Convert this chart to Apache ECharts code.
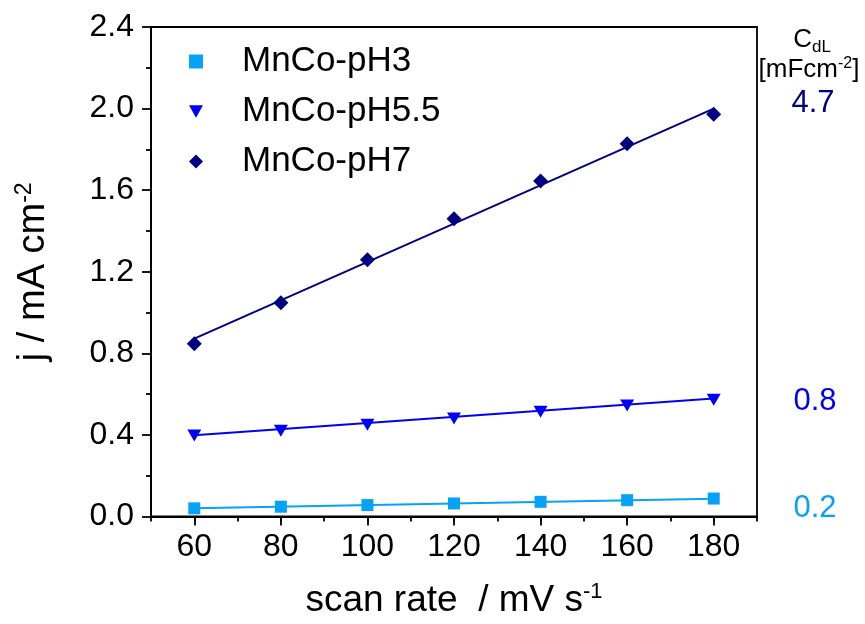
<!DOCTYPE html>
<html><head><meta charset="utf-8">
<script src="https://cdn.jsdelivr.net/npm/echarts@6/dist/echarts.min.js"></script>
<style>html,body{margin:0;padding:0;background:#fff}#c{width:865px;height:624px}</style>
</head><body><div id="c"></div>
<script>
const scanRates = [60, 80, 100, 120, 140, 160, 180];
const pH3 = [0.040, 0.048, 0.056, 0.064, 0.072, 0.080, 0.088];
const pH55 = [0.397, 0.420, 0.450, 0.480, 0.514, 0.544, 0.573];
const pH7 = [0.847, 1.048, 1.259, 1.460, 1.645, 1.827, 1.972];
const fitX = [60, 180];
const fitPH3 = [0.041, 0.087];
const fitPH55 = [0.398, 0.578];
const fitPH7 = [0.872, 2.000];
const xTicks = [60, 80, 100, 120, 140, 160, 180];
const capacitance = ['0.2', '0.8', '4.7'];
const names = ['MnCo-pH3', 'MnCo-pH5.5', 'MnCo-pH7'];
const colors = ['#05a2f5', '#0000f5', '#000080'];

const pairs = (xs, ys) => xs.map((x, i) => [x, ys[i]]);
const font = 'Liberation Sans, Arial, sans-serif';
const triDown = 'path://M0,0L10,0L5,9Z';
const diamond = 'path://M5,0L10,5L5,10L0,5Z';
const axisCommon = {color: '#000', width: 1.8};

const chart = echarts.init(document.getElementById('c'));
chart.setOption({
  animation: false,
  grid: {left: 151, right: 108, top: 27, bottom: 106, show: true, borderColor: '#000', borderWidth: 1.8, backgroundColor: 'transparent'},
  legend: {
    orient: 'vertical', left: 184, top: 39, itemWidth: 14, itemHeight: 14, itemGap: 15,
    textStyle: {fontFamily: font, fontSize: 35, color: '#000', padding: [0, 0, 0, 34]},
    data: [
      {name: names[0], icon: 'rect'},
      {name: names[1], icon: triDown},
      {name: names[2], icon: diamond}
    ]
  },
  xAxis: [{
    type: 'value', min: 50, max: 190, interval: 10,
    axisLine: {lineStyle: axisCommon},
    axisTick: {show: true, inside: false, length: 9, lineStyle: axisCommon, customValues: xTicks},
    splitLine: {show: false},
    axisLabel: {fontFamily: font, fontSize: 32, color: '#000', margin: 15, customValues: xTicks},
    name: 'scan rate  / mV s{sup|-1}', nameLocation: 'middle', nameGap: 64,
    nameTextStyle: {fontFamily: font, fontSize: 37, color: '#000',
      rich: {sup: {fontFamily: font, fontSize: 22, color: '#000', verticalAlign: 'top', padding: [0,0,18,0]}}}
  }, {
    type: 'value', min: 50, max: 190, interval: 10, position: 'bottom',
    axisLine: {show: false},
    axisTick: {show: true, inside: false, length: 5, lineStyle: axisCommon},
    axisLabel: {show: false}, splitLine: {show: false}
  }],
  yAxis: {
    type: 'value', min: 0, max: 2.4, interval: 0.4,
    axisLine: {lineStyle: axisCommon},
    axisTick: {show: true, inside: false, length: 9, lineStyle: axisCommon},
    minorTick: {show: true, splitNumber: 2, length: 5, lineStyle: axisCommon},
    splitLine: {show: false},
    axisLabel: {fontFamily: font, fontSize: 32, color: '#000', margin: 17, formatter: v => v.toFixed(1)},
    name: 'j / mA cm{sup|-2}', nameLocation: 'middle', nameGap: 97,
    nameTextStyle: {fontFamily: font, fontSize: 38, color: '#000',
      rich: {sup: {fontFamily: font, fontSize: 23, color: '#000', verticalAlign: 'top', padding: [0,0,18,0]}}}
  },
  series: [
    {name: 'fit3', type: 'line', data: pairs(fitX, fitPH3), symbol: 'none', lineStyle: {color: colors[0], width: 2}, z: 2},
    {name: 'fit55', type: 'line', data: pairs(fitX, fitPH55), symbol: 'none', lineStyle: {color: colors[1], width: 2}, z: 2},
    {name: 'fit7', type: 'line', data: pairs(fitX, fitPH7), symbol: 'none', lineStyle: {color: colors[2], width: 2}, z: 2},
    {name: names[0], type: 'scatter', data: pairs(scanRates, pH3), symbol: 'rect', symbolSize: 12, itemStyle: {color: colors[0], opacity: 1}, z: 3},
    {name: names[1], type: 'scatter', data: pairs(scanRates, pH55), symbol: triDown, symbolSize: [14, 12], itemStyle: {color: colors[1], opacity: 1}, z: 3},
    {name: names[2], type: 'scatter', data: pairs(scanRates, pH7), symbol: diamond, symbolSize: 15, itemStyle: {color: colors[2], opacity: 1}, z: 3}
  ],
  graphic: [
    {type: 'text', x: 812, y: 40, style: {text: 'C{sub|dL}', align: 'center', verticalAlign: 'middle',
      font: '26px ' + font, fill: '#000', rich: {sub: {fontFamily: font, fontSize: 17, fill: '#000', padding: [14,0,0,0]}}}},
    {type: 'text', x: 809, y: 70, style: {text: '[mFcm{sup|-2}]', align: 'center', verticalAlign: 'middle',
      font: '26px ' + font, fill: '#000', rich: {sup: {fontFamily: font, fontSize: 16, fill: '#000', padding: [0,0,12,0]}}}},
    {type: 'text', x: 813, y: 103, style: {text: capacitance[2], align: 'center', verticalAlign: 'middle', font: '31px ' + font, fill: colors[2]}},
    {type: 'text', x: 815, y: 401, style: {text: capacitance[1], align: 'center', verticalAlign: 'middle', font: '31px ' + font, fill: colors[1]}},
    {type: 'text', x: 815, y: 508, style: {text: capacitance[0], align: 'center', verticalAlign: 'middle', font: '31px ' + font, fill: colors[0]}}
  ]
});
</script></body></html>
